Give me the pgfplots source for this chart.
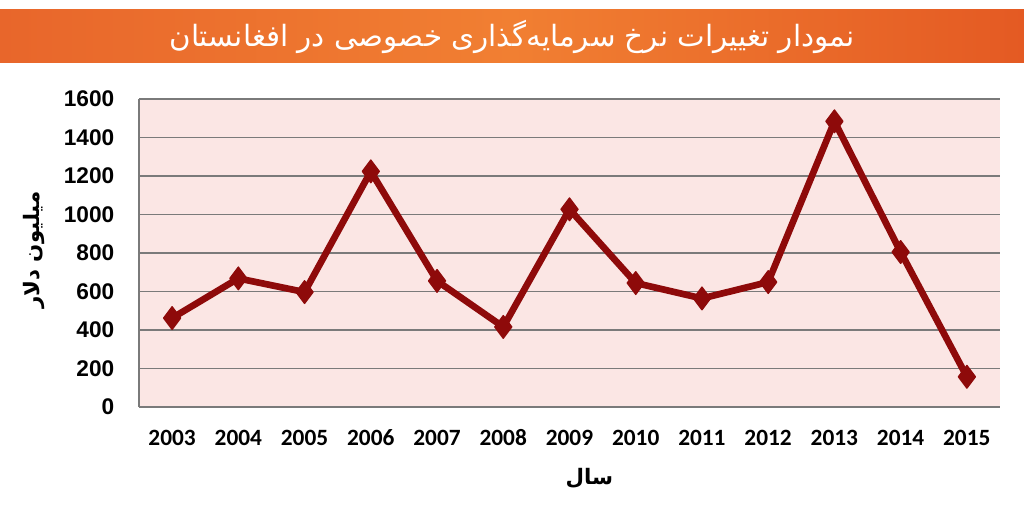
\documentclass[border=0pt]{standalone}
\usepackage{pgfplots}
\pgfplotsset{compat=1.18}
\usepackage{fontspec}
\setmainfont{Liberation Sans}
\TeXXeTstate=1
\newfontfamily\arabicfont[Script=Arabic]{DejaVu Sans}
\newfontfamily\carlito{Carlito}
\definecolor{pinkbg}{HTML}{FBE6E4}
\definecolor{gridgray}{HTML}{7A7A7A}
\definecolor{linered}{HTML}{8E0A0A}
\definecolor{orL}{HTML}{E8662B}
\definecolor{orM}{HTML}{F17F32}
\definecolor{orR}{HTML}{E45A23}
\pgfplotstableread{
year value
2003 462
2004 668
2005 597
2006 1224
2007 655
2008 416
2009 1027
2010 644
2011 564
2012 649
2013 1484
2014 805
2015 157
}\invest
\begin{document}
\begin{tikzpicture}[x=1pt,y=1pt]
\path[use as bounding box] (0,0) rectangle (768,378);
\shade[left color=orL, right color=orR, middle color=orM] (0,330.75) rectangle (768,370.5);
\node[text=white, font=\fontsize{22}{26}\selectfont\arabicfont] at (384,350.5) {\beginR نمودار تغییرات نرخ سرمایه‌گذاری خصوصی در افغانستان\endR};
\begin{axis}[
  at={(104.25pt,72.75pt)}, anchor=south west,
  scale only axis, width=645.75pt, height=231pt,
  xmin=2002.5, xmax=2015.5, ymin=0, ymax=1600,
  xtick={2003,...,2015}, ytick={0,200,...,1600},
  axis x line*=bottom, axis y line*=left,
  axis line style={-, draw=gridgray, line width=1.4pt},
  ymajorgrids, grid style={draw=gridgray, line width=1.4pt},
  major tick length=0pt,
  axis background/.style={fill=pinkbg},
  /pgf/number format/assume math mode=true,
  /pgf/number format/1000 sep={},
  xticklabel style={font=\carlito\bfseries\fontsize{17.5}{20}\selectfont, text height=12pt, text depth=0pt, yshift=-13pt},
  yticklabel style={font=\bfseries\fontsize{17}{20}\selectfont, xshift=-15pt},
  clip=false,
]
\addplot[color=linered, line width=5pt, line join=round, mark=diamond*, mark size=8.5pt, mark options={fill=linered, line width=1pt}] table[x=year, y=value] {\invest};
\end{axis}
\node[rotate=90, font=\fontsize{16}{18}\selectfont\arabicfont\bfseries] at (25.5,190.5) {\beginR میلیون دلار\endR};
\node[font=\fontsize{16}{18}\selectfont\arabicfont\bfseries] at (442,19.5) {\beginR سال\endR};
\end{tikzpicture}
\end{document}
